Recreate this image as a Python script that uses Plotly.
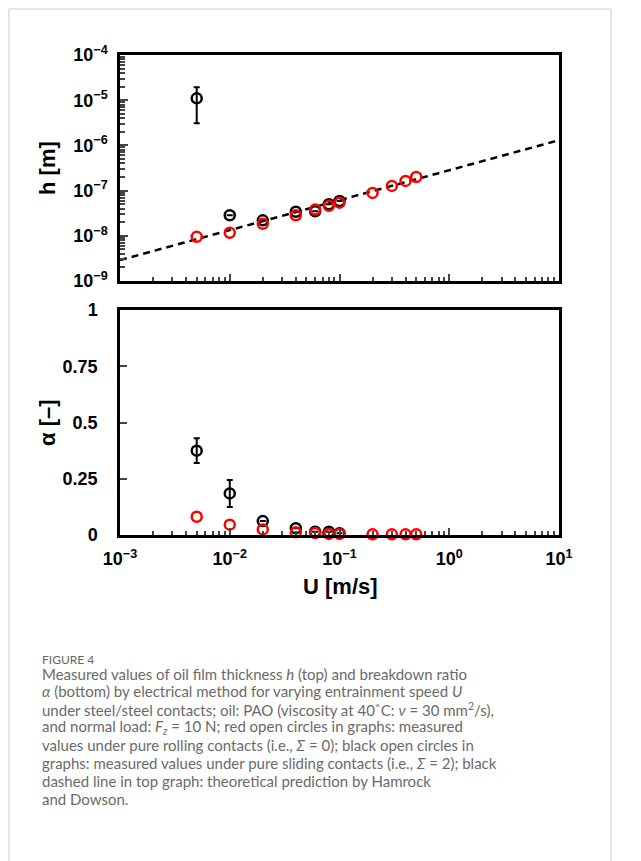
import plotly.graph_objects as go

# ---------------- data ----------------
U_rolling = [0.005, 0.01, 0.02, 0.04, 0.06, 0.08, 0.1, 0.2, 0.3, 0.4, 0.5]
h_rolling = [9.5e-9, 1.17e-8, 1.85e-8, 2.85e-8, 3.8e-8, 4.6e-8, 5.4e-8, 8.9e-8, 1.27e-7, 1.64e-7, 2.0e-7]
alpha_rolling = [0.081, 0.046, 0.025, 0.012, 0.009, 0.005, 0.005, 0.003, 0.003, 0.003, 0.003]

U_sliding = [0.005, 0.01, 0.02, 0.04, 0.06, 0.08, 0.1]
h_sliding = [1.1e-5, 2.85e-8, 2.2e-8, 3.4e-8, 3.5e-8, 5.0e-8, 5.9e-8]
h_sliding_err_plus = [0.83e-5, 0, 0, 0, 0, 0, 0]
h_sliding_err_minus = [0.79e-5, 0, 0, 0, 0, 0, 0]
alpha_sliding = [0.375, 0.185, 0.062, 0.030, 0.015, 0.015, 0.008]
alpha_sliding_err = [0.055, 0.06, 0, 0, 0, 0, 0]

U_theory = [0.001, 10]
h_theory = [2.9e-9, 1.3e-6]

x_tickvals = [1e-3, 1e-2, 1e-1, 1e0, 1e1]
x_ticktext = ["10<sup>−3</sup>", "10<sup>−2</sup>", "10<sup>−1</sup>", "10<sup>0</sup>", "10<sup>1</sup>"]
h_tickvals = [1e-9, 1e-8, 1e-7, 1e-6, 1e-5, 1e-4]
h_ticktext = ["10<sup>−9</sup>", "10<sup>−8</sup>", "10<sup>−7</sup>", "10<sup>−6</sup>", "10<sup>−5</sup>", "10<sup>−4</sup>"]
a_tickvals = [0, 0.25, 0.5, 0.75, 1]
a_ticktext = ["0", "0.25", "0.5", "0.75", "1"]

caption_title = "FIGURE 4"
caption_lines = [
    "Measured values of oil film thickness <i>h</i> (top) and breakdown ratio",
    "<i>α</i> (bottom) by electrical method for varying entrainment speed <i>U</i>",
    "under steel/steel contacts; oil: PAO (viscosity at 40˚C: <i>ν</i> = 30 mm<sup>2</sup>/s),",
    "and normal load: <i>F<sub>z</sub></i> = 10 N; red open circles in graphs: measured",
    "values under pure rolling contacts (i.e., <i>Σ</i> = 0); black open circles in",
    "graphs: measured values under pure sliding contacts (i.e., <i>Σ</i> = 2); black",
    "dashed line in top graph: theoretical prediction by Hamrock",
    "and Dowson.",
]

# ---------------- geometry ----------------
W, H = 641, 861
L, R, T, B = 120, 559, 55, 535


def px(x):
    return (x - L) / (R - L)


def py(y):
    return (B - y) / (B - T)


FONT = "Liberation Sans, Arial, sans-serif"
CAPFONT = "Lato, Open Sans, sans-serif"

fig = go.Figure()

# top plot
fig.add_trace(go.Scatter(x=U_theory, y=h_theory, mode="lines",
                         line=dict(color="black", width=2.5, dash="7px,5px"),
                         xaxis="x", yaxis="y", showlegend=False))
fig.add_trace(go.Scatter(x=U_sliding, y=h_sliding, mode="markers",
                         marker=dict(symbol="circle-open", size=10, color="black", line=dict(width=2.5)),
                         error_y=dict(type="data", array=h_sliding_err_plus, arrayminus=h_sliding_err_minus,
                                      color="black", thickness=2, width=3),
                         xaxis="x", yaxis="y", showlegend=False))
fig.add_trace(go.Scatter(x=U_rolling, y=h_rolling, mode="markers",
                         marker=dict(symbol="circle-open", size=10, color="#ff0000", line=dict(width=2.5)),
                         xaxis="x", yaxis="y", showlegend=False))

# bottom plot
fig.add_trace(go.Scatter(x=U_sliding, y=alpha_sliding, mode="markers",
                         marker=dict(symbol="circle-open", size=10, color="black", line=dict(width=2.5)),
                         error_y=dict(type="data", array=alpha_sliding_err,
                                      color="black", thickness=2, width=3),
                         xaxis="x2", yaxis="y2", showlegend=False, cliponaxis=False))
fig.add_trace(go.Scatter(x=U_rolling, y=alpha_rolling, mode="markers",
                         marker=dict(symbol="circle-open", size=10, color="#ff0000", line=dict(width=2.5)),
                         xaxis="x2", yaxis="y2", showlegend=False, cliponaxis=False))

axis_common = dict(showline=True, linecolor="black", linewidth=2.5, mirror=True,
                   showgrid=False, zeroline=False)
tickfont = dict(family=FONT, size=18, color="black", weight="bold")

fig.update_layout(
    width=W, height=H,
    margin=dict(l=L, r=W - R, t=T, b=H - B),
    paper_bgcolor="white", plot_bgcolor="white",
    xaxis=dict(type="log", range=[-3, 1], domain=[0, 1], anchor="y",
               tickvals=x_tickvals, ticktext=[""] * 5, ticks="inside", ticklen=7, tickwidth=1.5,
               minor=dict(ticks="inside", ticklen=4, tickwidth=1.5, dtick="D1", showgrid=False),
               **axis_common),
    yaxis=dict(type="log", range=[-9, -4], domain=[py(281), 1], anchor="x",
               tickvals=h_tickvals, ticktext=h_ticktext, ticks="inside", ticklen=8, tickwidth=2,
               minor=dict(ticks="inside", ticklen=5, tickwidth=2, dtick="D1", showgrid=False),
               tickfont=tickfont, ticklabelstandoff=6,
               **axis_common),
    xaxis2=dict(type="log", range=[-3, 1], domain=[0, 1], anchor="y2",
                tickvals=x_tickvals, ticktext=x_ticktext, ticks="inside", ticklen=7, tickwidth=1.5,
                minor=dict(ticks="inside", ticklen=4, tickwidth=1.5, dtick="D1", showgrid=False),
                tickfont=tickfont, ticklabelstandoff=6,
                **axis_common),
    yaxis2=dict(range=[0, 1], domain=[0, py(310)], anchor="x2",
                tickvals=a_tickvals, ticktext=a_ticktext, ticks="inside", ticklen=7, tickwidth=1.5,
                tickfont=tickfont, ticklabelstandoff=16,
                **axis_common),
)

annotations = [
    dict(text="<b>h [m]</b>", x=px(47), y=py(168), textangle=-90,
         font=dict(family=FONT, size=22, color="black")),
    dict(text="<b>α [–]</b>", x=px(47), y=py(423), textangle=-90,
         font=dict(family=FONT, size=22, color="black")),
    dict(text="<b>U [m/s]</b>", x=px(340), y=py(586),
         font=dict(family=FONT, size=22, color="black")),
    dict(text=caption_title, x=px(40), y=py(659), xanchor="left",
         font=dict(family=CAPFONT, size=12, color="#666666")),
]
for i, line in enumerate(caption_lines):
    annotations.append(dict(text=line, x=px(40), y=py(673.5 + 17.9 * i), xanchor="left",
                            font=dict(family=CAPFONT, size=15, color="#6a6a6a")))
for a in annotations:
    a.update(xref="paper", yref="paper", showarrow=False)
    a.setdefault("xanchor", "center")
    a.setdefault("yanchor", "middle")
fig.update_layout(annotations=annotations)

frame = dict(color="#dcdcdc", width=1.5)
fig.update_layout(shapes=[
    dict(type="line", xref="paper", yref="paper", x0=px(9), x1=px(611), y0=py(9), y1=py(9), line=frame),
    dict(type="line", xref="paper", yref="paper", x0=px(9), x1=px(9), y0=py(9), y1=py(870), line=frame),
    dict(type="line", xref="paper", yref="paper", x0=px(611), x1=px(611), y0=py(9), y1=py(870), line=frame),
])

fig.write_html("out.html")
